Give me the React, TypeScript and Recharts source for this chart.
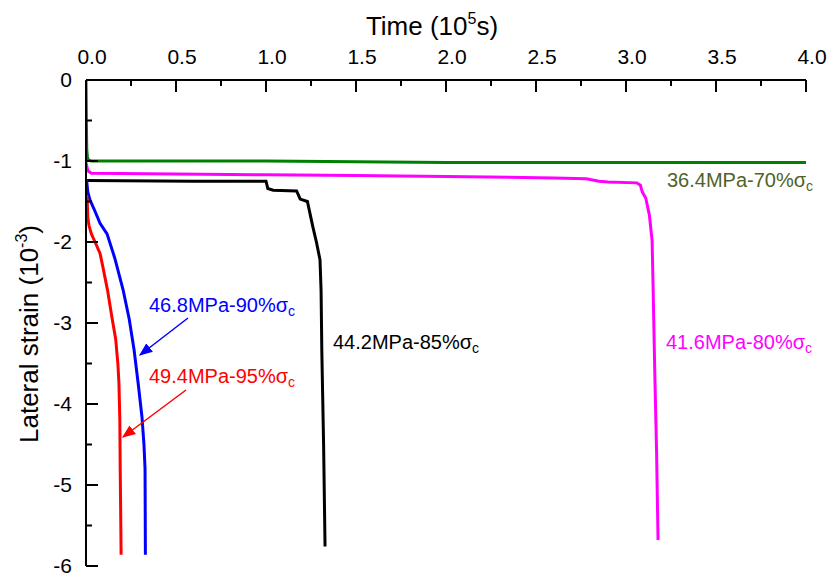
import React from "react"
import { LineChart, Line, XAxis, YAxis } from "recharts"

const FONT = "'Liberation Sans', Arial, Helvetica, sans-serif"

const xMajorTicks = [0, 0.5, 1, 1.5, 2, 2.5, 3, 3.5, 4]
const xMinorTicks = [0.25, 0.75, 1.25, 1.75, 2.25, 2.75, 3.25, 3.75]
const yMajorTicks = [0, -1, -2, -3, -4, -5, -6]
const yMinorTicks = [-0.5, -1.5, -2.5, -3.5, -4.5, -5.5]

// time in 10^5 s, lateral strain in 10^-3
const time70 = [0, 0.002, 0.004, 0.008, 0.015, 0.03, 0.5, 1.0, 1.5, 2.0, 2.5, 3.0, 3.5, 4.0]
const strain70 = [0, -0.5, -0.85, -0.96, -0.99, -1.0, -1.0, -1.0, -1.01, -1.02, -1.02, -1.02, -1.02, -1.02]

const time80 = [0, 0.01, 0.03, 0.5, 1.0, 1.5, 2.0, 2.6, 2.78, 2.85, 2.9, 3.06, 3.08, 3.09, 3.11, 3.13, 3.145, 3.15, 3.16, 3.17, 3.178]
const strain80 = [-1.02, -1.12, -1.15, -1.16, -1.17, -1.18, -1.19, -1.21, -1.22, -1.25, -1.26, -1.27, -1.3, -1.38, -1.46, -1.67, -1.98, -2.5, -3.62, -4.6, -5.68]

const time85 = [0, 0.6, 1.0, 1.01, 1.04, 1.17, 1.19, 1.23, 1.26, 1.28, 1.3, 1.306, 1.31, 1.32, 1.328]
const strain85 = [-1.24, -1.25, -1.25, -1.34, -1.36, -1.37, -1.47, -1.5, -1.81, -2.0, -2.22, -2.6, -3.33, -4.5, -5.76]

const time90 = [0.003, 0.01, 0.022, 0.05, 0.078, 0.117, 0.16, 0.206, 0.24, 0.267, 0.29, 0.311, 0.322, 0.328, 0.33]
const strain90 = [-1.23, -1.38, -1.48, -1.62, -1.77, -1.9, -2.2, -2.59, -2.95, -3.33, -3.75, -4.16, -4.5, -4.8, -5.86]

const time95 = [0.006, 0.01, 0.017, 0.03, 0.05, 0.078, 0.094, 0.12, 0.144, 0.165, 0.177, 0.183, 0.188, 0.19, 0.193, 0.195]
const strain95 = [-1.44, -1.7, -1.8, -1.9, -2.0, -2.14, -2.31, -2.6, -2.93, -3.2, -3.5, -3.74, -4.2, -4.8, -5.4, -5.86]

const zip = (t: number[], s: number[]) => t.map((x, i) => ({ x, y: s[i] }))

const series = [
  { name: "36.4MPa-70%", data: zip(time70, strain70), color: "#008000" },
  { name: "41.6MPa-80%", data: zip(time80, strain80), color: "#FF00FF" },
  { name: "44.2MPa-85%", data: zip(time85, strain85), color: "#000000" },
  { name: "46.8MPa-90%", data: zip(time90, strain90), color: "#0000FF" },
  { name: "49.4MPa-95%", data: zip(time95, strain95), color: "#FF0000" },
]

const W = 831
const H = 581
const X_AXIS_H = 30
const Y_AXIS_W = 40
// plot area: left 86, top 80, right 806, bottom 566
const margin = { top: 80 - X_AXIS_H, right: 25, bottom: 15, left: 86 - Y_AXIS_W }

const isMajorX = (v: number) => xMajorTicks.includes(v)
const isMajorY = (v: number) => yMajorTicks.includes(v)

function TopTick(props: any) {
  const { x, y, payload } = props
  const v = Number(payload.value)
  if (!isMajorX(v)) {
    return <line x1={x} y1={y} x2={x} y2={y + 6} stroke="#000" strokeWidth={2} />
  }
  return (
    <g>
      <line x1={x} y1={y} x2={x} y2={y + 12} stroke="#000" strokeWidth={2} />
      <text x={x + 6} y={y - 16} textAnchor="middle" fontSize={21} fontFamily={FONT} fill="#000">
        {v.toFixed(1)}
      </text>
    </g>
  )
}

function LeftTick(props: any) {
  const { x, y, payload } = props
  const v = Number(payload.value)
  if (!isMajorY(v)) {
    return <line x1={x} y1={y} x2={x + 6} y2={y} stroke="#000" strokeWidth={2} />
  }
  return (
    <g>
      <line x1={x} y1={y} x2={x + 12} y2={y} stroke="#000" strokeWidth={2} />
      <text x={x - 14} y={y + 7} textAnchor="end" fontSize={21} fontFamily={FONT} fill="#000">
        {v}
      </text>
    </g>
  )
}

function Label({ x, y, text, color }: { x: number; y: number; text: string; color: string }) {
  return (
    <text x={x} y={y} fontSize={20} fontFamily={FONT} fill={color}>
      {text}σ
      <tspan fontSize={14} dy={4}>c</tspan>
    </text>
  )
}

export default function App() {
  return (
    <div style={{ position: "absolute", left: 0, top: 0, width: W, height: H, background: "#fff" }}>
      <LineChart width={W} height={H} margin={margin}>
        <XAxis
          xAxisId="t"
          orientation="top"
          type="number"
          dataKey="x"
          domain={[0, 4]}
          ticks={[...xMajorTicks, ...xMinorTicks]}
          interval={0}
          height={X_AXIS_H}
          tickSize={0}
          tickMargin={0}
          tickLine={false}
          axisLine={{ stroke: "#000", strokeWidth: 2 }}
          tick={TopTick}
          allowDataOverflow
        />
        <YAxis
          yAxisId="s"
          type="number"
          dataKey="y"
          domain={[-6, 0]}
          ticks={[...yMajorTicks, ...yMinorTicks]}
          interval={0}
          width={Y_AXIS_W}
          tickSize={0}
          tickMargin={0}
          tickLine={false}
          axisLine={{ stroke: "#000", strokeWidth: 2 }}
          tick={LeftTick}
          allowDataOverflow
        />
        {series.map((s) => (
          <Line
            key={s.name}
            xAxisId="t"
            yAxisId="s"
            data={s.data}
            dataKey="y"
            type="linear"
            stroke={s.color}
            strokeWidth={3}
            dot={false}
            activeDot={false}
            isAnimationActive={false}
          />
        ))}
      </LineChart>
      <svg width={W} height={H} style={{ position: "absolute", left: 0, top: 0, pointerEvents: "none" }}>
        <defs>
          <marker id="ahBlue" viewBox="0 0 10 10" refX="9" refY="5" markerWidth="9" markerHeight="9" orient="auto">
            <path d="M0,1 L10,5 L0,9 z" fill="#0000FF" />
          </marker>
          <marker id="ahRed" viewBox="0 0 10 10" refX="9" refY="5" markerWidth="9" markerHeight="9" orient="auto">
            <path d="M0,1 L10,5 L0,9 z" fill="#FF0000" />
          </marker>
        </defs>
        <text x={432} y={35} textAnchor="middle" fontSize={26} fontFamily={FONT} fill="#000">
          Time (10
          <tspan fontSize={16} dy={-11}>5</tspan>
          <tspan dy={11}>s)</tspan>
        </text>
        <text
          x={38}
          y={334}
          textAnchor="middle"
          fontSize={26}
          fontFamily={FONT}
          fill="#000"
          transform="rotate(-90 38 334)"
        >
          Lateral strain (10
          <tspan fontSize={16} dy={-11}>-3</tspan>
          <tspan dy={11}>)</tspan>
        </text>
        <Label x={667} y={187} text="36.4MPa-70%" color="#4F6228" />
        <Label x={666} y={349} text="41.6MPa-80%" color="#FF00FF" />
        <Label x={333} y={349} text="44.2MPa-85%" color="#000000" />
        <Label x={149} y={312} text="46.8MPa-90%" color="#0000FF" />
        <Label x={149} y={383} text="49.4MPa-95%" color="#FF0000" />
        <line x1={188} y1={318} x2={140} y2={355} stroke="#0000FF" strokeWidth={1.5} markerEnd="url(#ahBlue)" />
        <line x1={186} y1={390} x2={123} y2={437} stroke="#FF0000" strokeWidth={1.5} markerEnd="url(#ahRed)" />
      </svg>
    </div>
  )
}
